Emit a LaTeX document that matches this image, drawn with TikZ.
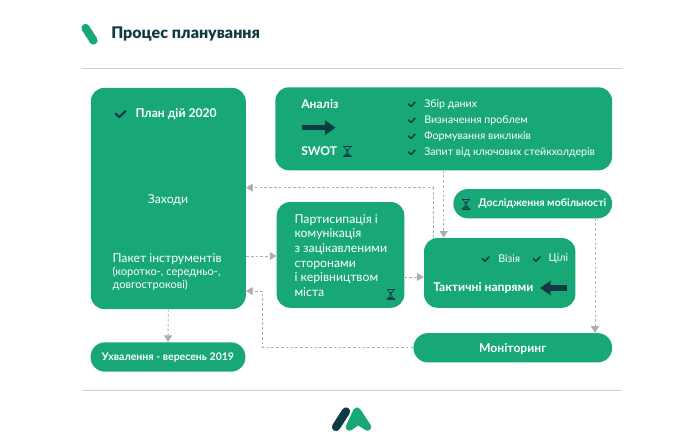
\documentclass[tikz,border=0pt]{standalone}
\usepackage{fontspec}
\setmainfont{Lato}
\newfontfamily\titlefont{Lato Black}
\usetikzlibrary{arrows.meta, positioning}
\definecolor{planGreen}{HTML}{18A878}
\definecolor{planDark}{HTML}{0F3A45}
\definecolor{planGrey}{HTML}{AEAEAE}
\definecolor{planRule}{HTML}{CFCFCF}

\tikzset{
    greenbox/.style={fill=planGreen, rounded corners=10pt, inner sep=0pt},
    pillbox/.style={fill=planGreen, rounded corners=10.9pt, inner sep=0pt},
    label/.style={text=white, inner sep=0pt, font=\fontsize{9.2}{11}\selectfont, align=left},
    listlabel/.style={label, font=\fontsize{8}{9}\selectfont},
    boldlabel/.style={label, font=\fontsize{9.1}{11}\selectfont\bfseries},
    smallbold/.style={label, font=\fontsize{7.9}{9}\selectfont\bfseries},
    flow/.style={draw=planGrey, line width=0.65pt, dash pattern=on 2pt off 1.6pt,
        -{Triangle[length=5pt, width=6pt, fill=planGrey, sep=0pt]}},
    fatarrow/.style={draw=planDark, line width=3.8pt,
        -{Triangle[length=8pt, width=10.5pt]}},
    pics/tick/.style={code={
        \draw[planDark, line width=1.1pt, line join=round, line cap=round]
            (-3.4,-0.3) -- (-0.8,2.2) -- (3.4,-2.2);}},
    pics/bigtick/.style={code={
        \draw[planDark, line width=1.6pt, line join=round, line cap=round]
            (-5,-0.4) -- (-1.4,3) -- (5,-3);}},
    pics/sandglass/.style={code={
        \draw[planDark, line width=0.6pt] (-4.2,-5) -- (4.2,-5) (-4.2,5) -- (4.2,5);
        \draw[planDark, line width=0.4pt] (-3.4,-5) -- (3.4,5) (3.4,-5) -- (-3.4,5);
        \draw[planDark, line width=0.4pt] (-3.4,-5) -- (-3.4,-4) (3.4,-5) -- (3.4,-4)
            (-3.4,5) -- (-3.4,4) (3.4,5) -- (3.4,4);
        \fill[planDark] (-1.6,-2.2) -- (1.6,-2.2) -- (0,0) -- cycle;
        \fill[planDark] (-2.6,4.6) -- (2.6,4.6) -- (0,2) -- cycle;}}
}

\begin{document}
\begin{tikzpicture}[x=0.75pt, y=-0.75pt, >=Stealth]
\useasboundingbox (0,0) rectangle (686,442);

% header and footer
\draw[planGreen, line width=6.2pt, line cap=round] (85.5,28) -- (93.5,40.5);
\node (title) [anchor=west, inner sep=0pt, text=planDark, font=\fontsize{12}{14}\titlefont]
    at (111,33.6) {Процес планування};
\coordinate (ruleTopL) at (82,68.5);
\coordinate (ruleTopR) at (622,68.5);
\coordinate (ruleBotL) at (82,390.5);
\coordinate (ruleBotR) at (622,390.5);
\draw[planRule, line width=0.7pt] (ruleTopL) -- (ruleTopR);
\draw[planRule, line width=0.7pt] (ruleBotL) -- (ruleBotR);
\draw[planDark, line width=6.2pt, line cap=round] (346,411.5) -- (336,427);
\draw[planGreen, fill=planGreen, line width=5.6pt, line join=round]
    (349.5,427) -- (357,411) -- (367.5,427) -- (358,421) -- cycle;

% boxes
\node (plan) [greenbox, minimum width=116.2pt, minimum height=165.8pt] at (168.3,198.5) {};
\node (ukhval) [pillbox, minimum width=116.2pt, minimum height=22pt] at (168,357) {};
\node (analiz) [greenbox, minimum width=252.5pt, minimum height=62.2pt] at (443.7,128.8) {};
\node (doslid) [pillbox, minimum width=119pt, minimum height=22pt] at (532.7,203.7) {};
\node (partis) [greenbox, minimum width=95.7pt, minimum height=79.3pt] at (340.5,254.9) {};
\node (taktik) [greenbox, minimum width=113.5pt, minimum height=52.3pt] at (499.7,272.9) {};
\node (monit) [pillbox, minimum width=149pt, minimum height=22pt] at (512.8,347.8) {};

% plan box
\pic at (120.7,114) {bigtick};
\node (plantxt) [boldlabel, anchor=west] at (135.3,114) {План дій 2020};
\node (zakhody) [label] at (168,200) {Заходи};
\node (paket) [label, anchor=west] at (112.3,259) {Пакет інструментів};
\node (paketsub) [label, anchor=west, font=\fontsize{8.3}{9.6}\selectfont] at (112.3,278.7) {(коротко-, середньо-,\\довгострокові)};
\node (ukhvaltxt) [smallbold, yshift=-0.5pt] at (ukhval) {Ухвалення - вересень 2019};

% analysis box
\node (aniztxt) [boldlabel, anchor=west] at (301,104) {Аналіз};
\draw[fatarrow] (302,127.7) -- (335.7,127.7);
\node (swot) [boldlabel, anchor=west] at (301,151) {SWOT};
\pic at (347.3,151.5) {sandglass};
\foreach \yy/\txt/\nm in {104.3/Збір даних/zbir, 120.3/Визначення проблем/vyzn,
    136.3/Формування викликів/form, 152.3/Запит від ключових стейкхолдерів/zapyt} {
    \pic at (411.7,\yy) {tick};
    \node (\nm) [listlabel, anchor=west] at (424,\yy) {\txt};
}

% mobility
\pic at (466,204) {sandglass};
\node (doslidtxt) [smallbold, anchor=west] at (478,204) {Дослідження мобільності};

% participation
\node (partistxt) [label, anchor=west] at (294.3,255.3) {Партисипація і\\комунікація\\з зацікавленими\\сторонами\\і керівництвом\\міста};
\pic at (390.7,294.3) {sandglass};

% tactics
\pic at (485.7,259) {tick};
\node (vizia) [listlabel, anchor=west] at (498,259) {Візія};
\pic at (536.7,259) {tick};
\node (tsili) [listlabel, anchor=west] at (548.3,259) {Цілі};
\node (taktiktxt) [boldlabel, anchor=west] at (433,288) {Тактичні напрями};
\draw[fatarrow] (566.7,288) -- (540,288);

\node (monittxt) [boldlabel, yshift=-0.8pt] at (monit) {Моніторинг};

% connectors
\coordinate (bendA) at (433,187.7);
\coordinate (inA) at (443.7,200);
\coordinate (inB) at (595,220);
\coordinate (bendB) at (262.3,347);
\coordinate (outB) at (262.3,291);
\coordinate (rowC) at (260,256);
\coordinate (rowD) at (410,277);

\draw[flow] (analiz.south -| inA) -- (taktik.north -| inA);
\draw[flow] (taktik.north -| bendA) -- (bendA) -- (plan.east |- bendA);
\draw[flow] (plan.east |- rowC) -- (partis.west |- rowC);
\draw[flow] (partis.east |- rowD) -- (taktik.west |- rowD);
\draw[flow] (doslid.south -| inB) -- (monit.north -| inB);
\draw[flow] (monit.west |- bendB) -- (bendB) -- (outB) -- (plan.east |- outB);
\draw[flow] (plan.south) -- (ukhval.north);

\end{tikzpicture}
\end{document}
